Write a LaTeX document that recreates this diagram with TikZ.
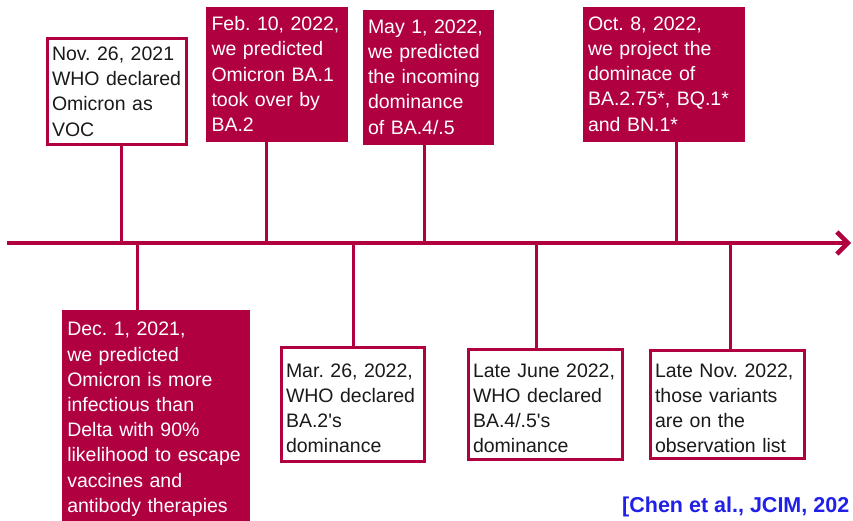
\documentclass[tikz,border=0pt]{standalone}
\usepackage{fontspec}
\setmainfont{Liberation Sans}
\usetikzlibrary{arrows.meta}
\definecolor{crim}{HTML}{B00040}
\definecolor{txt}{HTML}{1A1A1A}
\definecolor{citeblue}{HTML}{2020E8}
\frenchspacing
\begin{document}
\begin{tikzpicture}[x=1pt,y=-1pt,
  box/.style={rectangle, inner xsep=5pt, inner ysep=3pt, align=left,
    font=\fontsize{19.5}{25.2}\selectfont\frenchspacing},
  whitebox/.style={box, draw=crim, line width=3pt, fill=white, text=txt},
  redbox/.style={box, fill=crim, draw=crim, line width=0.6pt, text=white},
  stem/.style={draw=crim, line width=3pt},
  timeline/.style={draw=crim, line width=4.5pt, -{Straight Barb[length=11pt,width=22pt]}}
]
\useasboundingbox (0,0) rectangle (853,520);
\clip (0,0) rectangle (853,520);

% timeline
\coordinate (ts) at (7,243);
\coordinate (te) at (851,243);
\draw[timeline] (ts) -- (te);

% timeline points
\coordinate (p1) at (121,243);
\coordinate (p2) at (266,243);
\coordinate (p3) at (424,243);
\coordinate (p4) at (676,243);
\coordinate (q1) at (137,243);
\coordinate (q2) at (353,243);
\coordinate (q3) at (536,243);
\coordinate (q4) at (730,243);

% top boxes
\node[whitebox, text width=129pt, minimum height=106pt] (n1) at (116.5,91.5)
  {Nov. 26, 2021\\WHO declared\\Omicron as\\VOC};
\node[redbox, text width=131pt, minimum height=134pt] (n2) at (277,74)
  {Feb. 10, 2022,\\we predicted\\Omicron BA.1\\took over by\\BA.2};
\node[redbox, text width=120pt, minimum height=134pt] (n3) at (428,77)
  {May 1, 2022,\\we predicted\\the incoming\\dominance\\of BA.4/.5};
\node[redbox, text width=151pt, minimum height=134pt] (n4) at (663.5,74)
  {Oct. 8, 2022,\\we project the\\dominace of\\BA.2.75*, BQ.1*\\and BN.1*};

% bottom boxes
\node[redbox, text width=177pt, anchor=north west, inner ysep=12pt] (m1) at (62,310)
  {Dec. 1, 2021,\\we predicted\\Omicron is more\\infectious than\\Delta with 90\%\\likelihood to escape\\vaccines and\\antibody therapies\\[20pt]\mbox{}};
\node[whitebox, text width=133pt, minimum height=114pt] (m2) at (352.5,404)
  {\rule{0pt}{22pt}Mar. 26, 2022,\\WHO declared\\BA.2\textquotesingle s\\dominance};
\node[whitebox, text width=144pt, minimum height=110pt] (m3) at (545,404)
  {\rule{0pt}{22pt}Late June 2022,\\WHO declared\\BA.4/.5\textquotesingle s\\dominance};
\node[whitebox, text width=144pt, minimum height=108pt] (m4) at (727,404)
  {\rule{0pt}{22pt}Late Nov. 2022,\\those variants\\are on the\\observation list};

% stems
\draw[stem] (p1 |- n1.south) -- (p1);
\draw[stem] (p2 |- n2.south) -- (p2);
\draw[stem] (p3 |- n3.south) -- (p3);
\draw[stem] (p4 |- n4.south) -- (p4);
\draw[stem] (q1) -- (q1 |- m1.north);
\draw[stem] (q2) -- (q2 |- m2.north);
\draw[stem] (q3) -- (q3 |- m3.north);
\draw[stem] (q4) -- (q4 |- m4.north);

% citation
\node[anchor=base west, inner sep=0pt, text=citeblue, font=\fontsize{21.5}{26}\selectfont\bfseries] (cite) at (622,512)
  {[Chen et al., JCIM, 202};
\end{tikzpicture}
\end{document}
